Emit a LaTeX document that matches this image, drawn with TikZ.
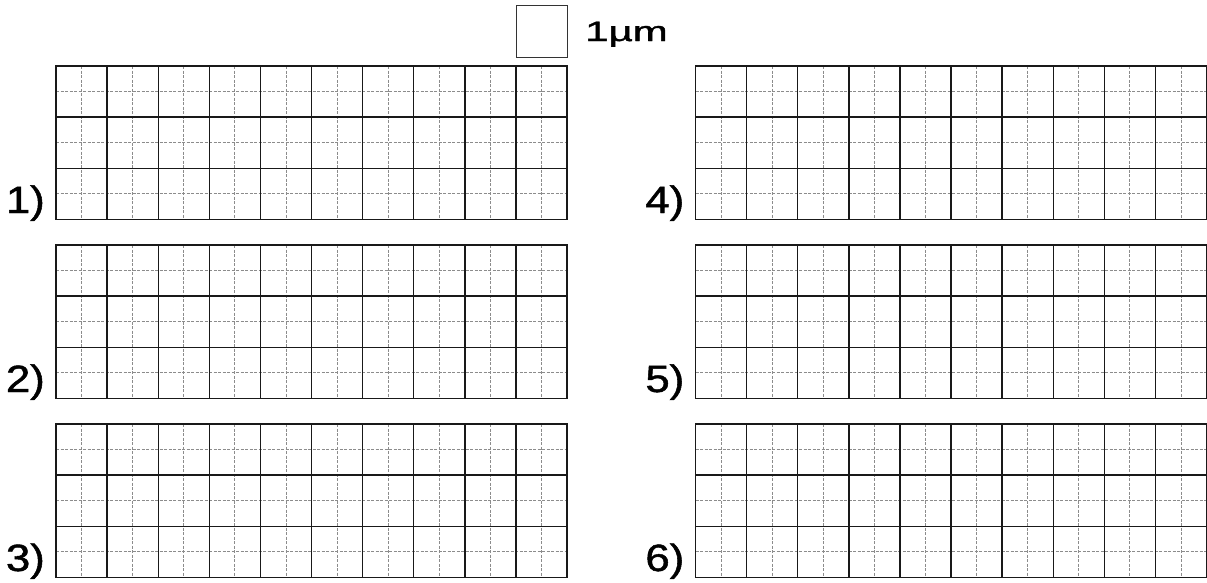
\documentclass[tikz,border=0pt]{standalone}
\usepackage{fontspec}
\setmainfont{Liberation Sans}
\newfontfamily\heavyfont{Liberation Sans}[RawFeature={embolden=1.2}]
\usepackage{graphicx}
\begin{document}
\begin{tikzpicture}[x=1pt,y=-1pt,
  major/.style={draw=black!90, line width=1.4pt},
  minor/.style={draw=black!45, line width=0.8pt, dash pattern=on 3pt off 1.5pt},
  lbl/.style={anchor=base east, inner sep=0pt, font=\heavyfont\fontsize{38}{38}\selectfont},
  scalebox/.style={draw=black!80, line width=1pt}]
\useasboundingbox (0,0) rectangle (1207,582);
\def\cs{51.1}
\foreach \gx/\gy/\lab in {56/66/1, 56/245/2, 56/424/3, 695.5/66/4, 695.5/245/5, 695.5/424/6}{
  \foreach \i in {0,...,9}
    \draw[minor] ({\gx+(\i+0.5)*\cs},\gy) -- ++(0,{3*\cs});
  \foreach \j in {0,1,2}
    \draw[minor] (\gx,{\gy+(\j+0.5)*\cs}) -- ++({10*\cs},0);
  \foreach \i in {1,...,9}
    \draw[major] ({\gx+\i*\cs},\gy) -- ++(0,{3*\cs});
  \foreach \j in {1,2}
    \draw[major] (\gx,{\gy+\j*\cs}) -- ++({10*\cs},0);
  \draw[major] (\gx,\gy) rectangle ++({10*\cs},{3*\cs});
  \node[lbl] (lab\lab) at ({\gx-11},{\gy+147}) {\scalebox{1.15}[1]{\lab)}};
}
\draw[scalebox] (516,5) rectangle (567,57);
\node[anchor=base west, inner sep=0pt, font=\heavyfont\fontsize{28}{28}\selectfont] (unit) at (585,41) {\scalebox{1.5}[1]{1µm}};
\end{tikzpicture}
\end{document}
